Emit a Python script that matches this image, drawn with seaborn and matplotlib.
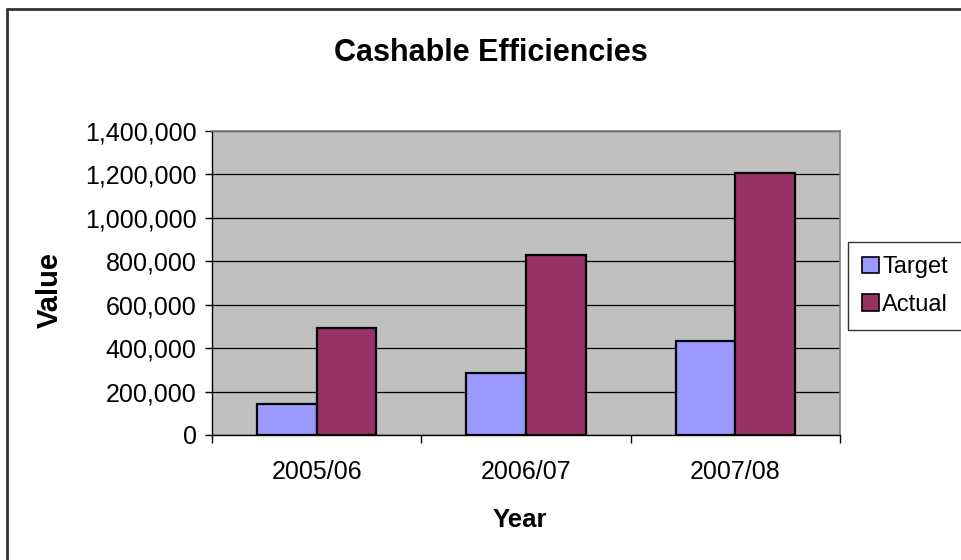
import matplotlib
matplotlib.use("Agg")
import matplotlib.pyplot as plt
from matplotlib.lines import Line2D
import seaborn as sns
import pandas as pd
from matplotlib.ticker import FuncFormatter, FixedLocator

years = ["2005/06", "2006/07", "2007/08"]
target = [145000, 284000, 431000]
actual = [495000, 827000, 1205000]
series = ["Target", "Actual"]
colors = ["#9999FF", "#993366"]

df = pd.DataFrame({
    "Year": years * 2,
    "Value": target + actual,
    "Series": ["Target"] * 3 + ["Actual"] * 3,
})

sns.set_style("white")
plt.rcParams["font.family"] = ["Liberation Sans", "DejaVu Sans"]
plt.rcParams["text.color"] = "black"
plt.rcParams["xtick.color"] = "black"
plt.rcParams["ytick.color"] = "black"
plt.rcParams["axes.labelcolor"] = "black"

W, H = 962, 560
fig = plt.figure(figsize=(9.62, 5.6), dpi=100)
ax = fig.add_axes([212 / W, 1 - 435 / H, (840 - 212) / W, (435 - 131) / H])

sns.barplot(data=df, x="Year", y="Value", hue="Series", hue_order=series,
            palette=colors, width=0.57, edgecolor="black", linewidth=1.6,
            saturation=1, ax=ax, legend=True)

ax.set_facecolor("#C0C0C0")
ax.set_ylim(0, 1400000)
ax.set_xlim(-0.5, 2.5)
ax.set_yticks(range(0, 1400001, 200000))
ax.yaxis.set_major_formatter(FuncFormatter(lambda v, p: f"{int(v):,}"))
ax.grid(axis="y", color="black", linewidth=0.9)
ax.set_axisbelow(True)

for s in ["top", "right"]:
    ax.spines[s].set_color("#808080")
    ax.spines[s].set_linewidth(1.2)
for s in ["left", "bottom"]:
    ax.spines[s].set_color("black")
    ax.spines[s].set_linewidth(1.0)

ax.tick_params(axis="y", which="major", direction="out", length=5, width=1,
               color="black", labelcolor="black", labelsize=18, pad=6, left=True)
ax.tick_params(axis="x", which="major", length=0, labelsize=18, pad=18,
               labelcolor="black")
ax.xaxis.set_minor_locator(FixedLocator([-0.5, 0.5, 1.5, 2.5]))
ax.tick_params(axis="x", which="minor", direction="out", length=6, width=1,
               color="black", bottom=True)

ax.set_xlabel("")
ax.set_ylabel("")
fig.text(520 / W, 1 - 520 / H, "Year", ha="center", va="center",
         fontsize=18.5, fontweight="bold", color="black")
fig.text(50 / W, 1 - 290 / H, "Value", ha="center", va="center",
         fontsize=21, fontweight="bold", rotation=90, color="black")
fig.text(491 / W, 1 - 53 / H, "Cashable Efficiencies", ha="center", va="center",
         fontsize=22, fontweight="bold", color="black")

leg = ax.legend(loc="upper left", bbox_to_anchor=(848 / W, 1 - 242 / H, 130 / W, 0.0),
                mode="expand",
                bbox_transform=fig.transFigure, frameon=True, fancybox=False,
                fontsize=17, handlelength=0.7, handleheight=0.7, handletextpad=0.15,
                labelspacing=0.65, borderpad=0.6, borderaxespad=0, title=None)
leg.get_frame().set_edgecolor("black")
leg.get_frame().set_linewidth(1.0)
for t in leg.get_texts():
    t.set_color("black")
for h in leg.legend_handles:
    h.set_edgecolor("black")
    h.set_linewidth(1.2)

fig.add_artist(Line2D([7 / W, 7 / W], [0, 1 - 9 / H], transform=fig.transFigure,
                      color="#333333", linewidth=2))
fig.add_artist(Line2D([7 / W, 1], [1 - 9 / H, 1 - 9 / H], transform=fig.transFigure,
                      color="#333333", linewidth=2))

fig.savefig("out.png", dpi=100)
